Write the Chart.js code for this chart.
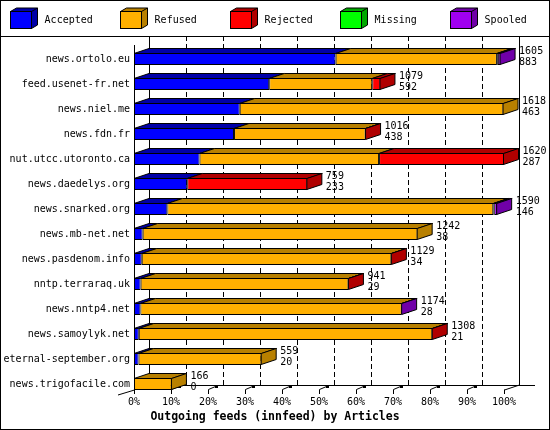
<!DOCTYPE html>
<html><head><meta charset="utf-8">
<script src="https://cdn.jsdelivr.net/npm/chart.js@4/dist/chart.umd.min.js"></script>
<style>html,body{margin:0;padding:0;background:#fff;}canvas{display:block;}</style>
</head><body>
<canvas id="c" width="550" height="430"></canvas>
<script>
// ---- data ----
const categories = ['news.ortolo.eu','feed.usenet-fr.net','news.niel.me','news.fdn.fr','nut.utcc.utoronto.ca','news.daedelys.org','news.snarked.org','news.mb-net.net','news.pasdenom.info','nntp.terraraq.uk','news.nntp4.net','news.samoylyk.net','eternal-september.org','news.trigofacile.com'];
const totals   = [1605,1079,1618,1016,1620,759,1590,1242,1129,941,1174,1308,559,166];
const accepted = [883,592,463,438,287,233,146,38,34,29,28,21,20,0];
const refused  = [706,451,1155,576,786,0,1427,1204,1093,910,1144,1285,539,166];
const rejected = [4,36,0,2,547,526,4,0,2,2,0,2,0,0];
const missing  = [0,0,0,0,0,0,0,0,0,0,0,0,0,0];
const spooled  = [12,0,0,0,0,0,13,0,0,0,2,0,0,0];
const seriesNames = ['Accepted','Refused','Rejected','Missing','Spooled'];
const tickLabels = ['0%','10%','20%','30%','40%','50%','60%','70%','80%','90%','100%'];
const axisTitle = 'Outgoing feeds (innfeed) by Articles';

// ---- styles ----
const frontColors = ['#0000ff','#ffb000','#ff0000','#00ff00','#a000f0'];
const darkColors  = ['#0000a8','#b88000','#b00000','#00a800','#7000a8'];
const FONT = "'DejaVu Sans Mono', monospace";
const DX = 15, DY = 5;
const axisMax = Math.max(...totals);
const px = v => Math.round(v) + 0.5;

const seriesData = [accepted, refused, rejected, missing, spooled];

const scene = {
  id: 'scene',
  beforeDatasetsDraw(chart) {
    const {ctx, scales: {x, y}} = chart;
    const x0 = x.getPixelForValue(0), x1 = x.getPixelForValue(axisMax);
    const floorF = y.getPixelForValue(categories.length - 1) + 6; // 390
    const floorB = floorF - DY;
    const wallTop = 37, frontTop = 45;
    ctx.save();
    ctx.strokeStyle = '#000'; ctx.lineWidth = 1;
    // dashed grid on back wall
    ctx.setLineDash([5,3]);
    for (let k = 1; k < 10; k++) {
      const gx = px(x.getPixelForValue(k * axisMax / 10) + DX);
      ctx.beginPath(); ctx.moveTo(gx, floorB); ctx.lineTo(gx, wallTop); ctx.stroke();
    }
    ctx.setLineDash([]);
    ctx.beginPath();
    ctx.moveTo(px(x0 + DX), wallTop); ctx.lineTo(px(x0 + DX), floorB + 0.5);
    ctx.moveTo(px(x1 + DX), wallTop); ctx.lineTo(px(x1 + DX), floorB + 0.5);
    ctx.moveTo(px(x0 + DX), floorB + 0.5); ctx.lineTo(535, floorB + 0.5);
    ctx.moveTo(px(x0), frontTop); ctx.lineTo(px(x0), floorF);
    ctx.moveTo(px(x0), floorF); ctx.lineTo(118, floorF + 5);
    ctx.moveTo(px(x1), floorF); ctx.lineTo(px(x1 + DX), floorB);
    ctx.stroke();
    // ticks
    for (let k = 0; k <= 10; k++) {
      const tx = x.getPixelForValue(k * axisMax / 10);
      ctx.beginPath();
      ctx.moveTo(px(tx), floorF - 0.5); ctx.lineTo(px(tx), floorF + 4);
      if (k > 0 && k < 10) {
        ctx.moveTo(px(tx), floorF - 0.5); ctx.lineTo(px(tx) + 7, floorF - 3.5);
      }
      ctx.stroke();
      if (k > 0 && k < 10) { ctx.fillStyle = '#000'; ctx.fillRect(Math.round(tx) + 7, floorF - 5, 3, 3); }
    }
    ctx.restore();
  },
  afterDatasetsDraw(chart) {
    const {ctx} = chart;
    ctx.save();
    ctx.lineWidth = 1; ctx.strokeStyle = '#000'; ctx.lineJoin = 'miter';
    for (let j = 0; j < categories.length; j++) {
      let last = null;
      for (let i = 0; i < seriesData.length; i++) {
        if (!seriesData[i][j]) continue;
        const el = chart.getDatasetMeta(i).data[j];
        const p = el.getProps(['x','y','base','height'], true);
        const l = Math.min(p.x, p.base), r = Math.max(p.x, p.base);
        const top = p.y - p.height / 2, bot = p.y + p.height / 2;
        ctx.beginPath();
        ctx.moveTo(l, top + 0.5); ctx.lineTo(r, top + 0.5);
        ctx.lineTo(r + DX, top + 0.5 - DY); ctx.lineTo(l + DX, top + 0.5 - DY); ctx.closePath();
        ctx.fillStyle = darkColors[i]; ctx.fill(); ctx.stroke();
        last = {i, r, top, bot, cy: p.y};
      }
      if (last) {
        const {i, r, top, bot} = last;
        ctx.beginPath();
        ctx.moveTo(r - 0.5, top + 0.5); ctx.lineTo(r - 0.5 + DX, top + 0.5 - DY);
        ctx.lineTo(r - 0.5 + DX, bot - 0.5 - DY); ctx.lineTo(r - 0.5, bot - 0.5); ctx.closePath();
        ctx.fillStyle = darkColors[i]; ctx.fill(); ctx.stroke();
        ctx.fillStyle = '#000'; ctx.font = '10px ' + FONT; ctx.textAlign = 'left'; ctx.textBaseline = 'alphabetic';
        ctx.fillText(String(totals[j]), r + DX + 3.5, last.cy - 5.5);
        ctx.fillText(String(accepted[j]), r + DX + 3.5, last.cy + 5.5);
      }
    }
    ctx.restore();
  },
  afterDraw(chart) {
    const {ctx} = chart;
    ctx.save();
    ctx.strokeStyle = '#000'; ctx.lineWidth = 1;
    ctx.strokeRect(0.5, 0.5, 549, 429);
    ctx.beginPath(); ctx.moveTo(0, 36.5); ctx.lineTo(550, 36.5); ctx.stroke();
    // legend
    ctx.font = '10px ' + FONT; ctx.textAlign = 'left'; ctx.textBaseline = 'alphabetic';
    seriesNames.forEach((name, i) => {
      const lx = 10.5 + i * 110, ty = 11.5, w = 21, h = 17, dx = 6, dy = 3.5;
      ctx.fillStyle = darkColors[i];
      ctx.beginPath();
      ctx.moveTo(lx, ty); ctx.lineTo(lx + dx, ty - dy); ctx.lineTo(lx + w + dx, ty - dy);
      ctx.lineTo(lx + w + dx, ty + h - dy); ctx.lineTo(lx + w, ty + h); ctx.lineTo(lx + w, ty); ctx.closePath();
      ctx.fill(); ctx.stroke();
      ctx.beginPath(); ctx.moveTo(lx + w, ty); ctx.lineTo(lx + w + dx, ty - dy); ctx.stroke();
      ctx.fillStyle = frontColors[i];
      ctx.fillRect(lx, ty, w, h); ctx.strokeRect(lx, ty, w, h);
      ctx.fillStyle = '#000';
      ctx.fillText(name, 44.6 + i * 110, 23);
    });
    ctx.restore();
  }
};

new Chart(document.getElementById('c'), {
  type: 'bar',
  data: {
    labels: categories,
    datasets: seriesNames.map((name, i) => ({
      label: name,
      data: seriesData[i],
      backgroundColor: frontColors[i],
      borderColor: '#000',
      borderWidth: 1,
      borderSkipped: false,
      inflateAmount: 0,
      barThickness: 12
    }))
  },
  options: {
    indexAxis: 'y',
    responsive: false,
    animation: false,
    events: [],
    layout: { padding: { top: 46.5, left: 0, right: 0, bottom: 0 } },
    plugins: {
      legend: { display: false },
      tooltip: { enabled: false },
      title: {
        display: true, position: 'bottom', text: axisTitle, color: '#000',
        font: { family: FONT, size: 11.5, weight: 'bold', lineHeight: 1.2 },
        padding: { top: 2, bottom: 6 }
      }
    },
    scales: {
      x: {
        stacked: true, min: 0, max: axisMax,
        grid: { display: false, drawTicks: false }, border: { display: false },
        ticks: { stepSize: axisMax / 10, autoSkip: false, maxRotation: 0, padding: 0, color: '#000',
          font: { family: FONT, size: 10 }, callback: (v, i) => tickLabels[i] },
        afterFit: s => { s.height = 11.7; }
      },
      y: {
        stacked: true,
        grid: { display: false, drawTicks: false }, border: { display: false },
        ticks: { padding: 4, color: '#000', font: { family: FONT, size: 10 }, autoSkip: false },
        afterFit: s => { s.width = 134; }
      },
      yRight: {
        type: 'category', position: 'right', labels: categories,
        grid: { display: false, drawTicks: false }, border: { display: false },
        ticks: { display: false },
        afterFit: s => { s.width = 46; }
      }
    }
  },
  plugins: [scene]
});
</script>
</body></html>
